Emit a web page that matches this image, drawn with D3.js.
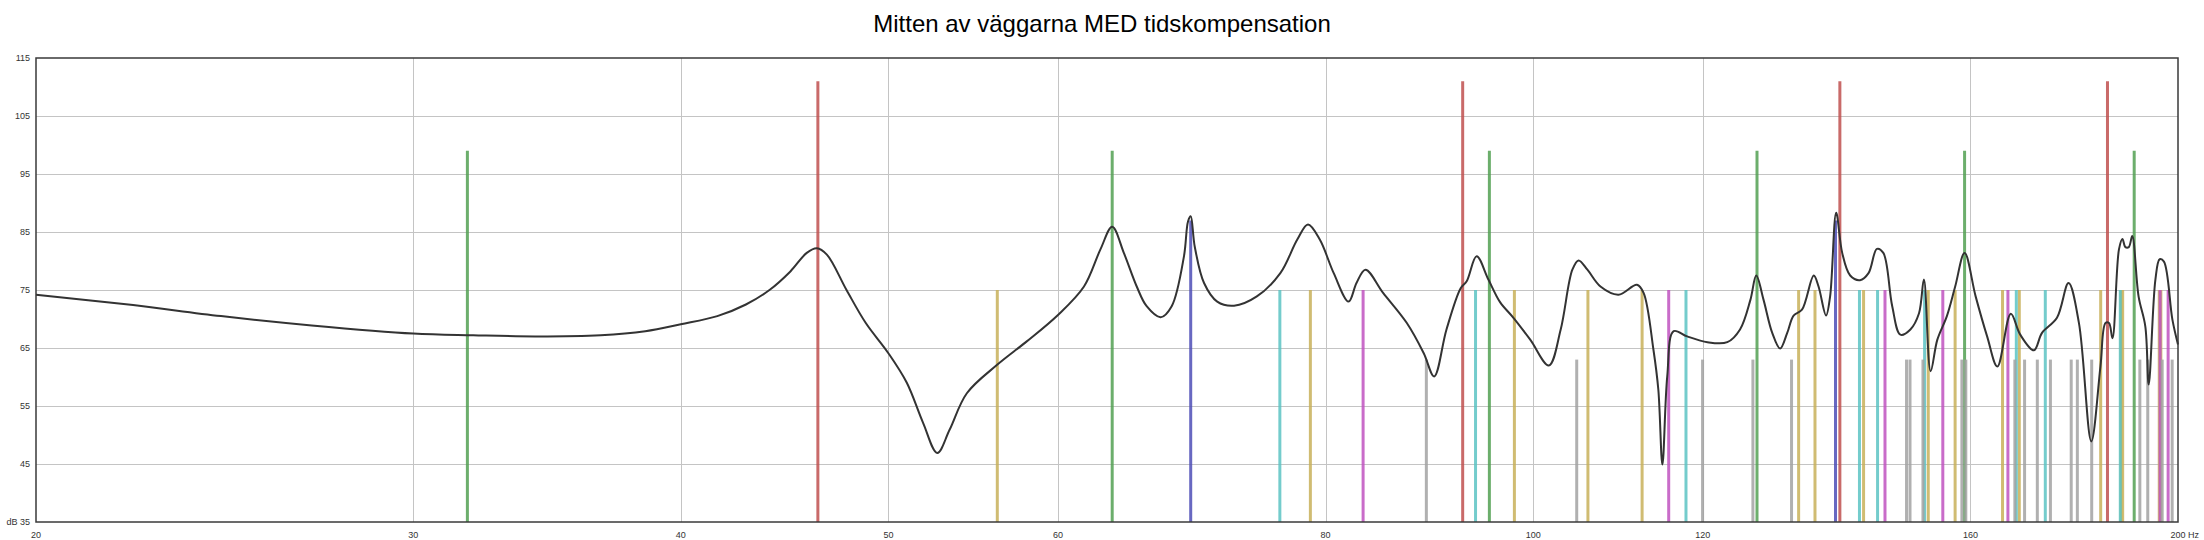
<!DOCTYPE html>
<html>
<head>
<meta charset="utf-8">
<script src="https://cdn.jsdelivr.net/npm/d3@7"></script>
<style>
  body { margin: 0; background: #fff; }
  text { font-family: Arial, 'Liberation Sans', sans-serif; }
</style>
</head>
<body>
<div id="chart"></div>
<script>
var title = 'Mitten av väggarna MED tidskompensation'
var xTicks = [20, 30, 40, 50, 60, 80, 100, 120, 160, 200]
var yTicks = [35, 45, 55, 65, 75, 85, 95, 105, 115]

// room modes (Hz)
var axialLength = [46.35, 92.7, 139.05, 185.4]
var axialWidth = [31.8, 63.6, 95.4, 127.2, 159.0, 190.8]
var axialHeight = [69.2, 138.4]
var tangLengthWidth = [56.21, 78.7, 98.0, 106.06, 112.42, 133.02, 135.38, 142.64, 152.91, 157.39, 165.62, 168.63, 184.05, 188.11, 188.45, 196.01, 196.35]
var tangLengthHeight = [83.29, 115.68, 145.96, 155.32, 166.58, 196.19, 197.89]
var tangWidthHeight = [76.16, 93.99, 117.85, 142.01, 144.8, 152.31, 168.09, 173.41, 187.97]
var oblique = [89.15, 104.79, 119.97, 126.64, 132.01, 149.38, 149.94, 152.04, 158.54, 159.21, 167.83, 169.59, 171.93, 174.37, 178.31, 179.49, 182.28, 191.96, 193.6, 196.63, 198.75]

// marker heights in dB
var axialLevels = [111, 99, 87]
var tangLevel = 75
var obliqueLevel = 63

// measured response
var curveFreqs = [20, 22.2, 24.4, 26.9, 30, 32, 34.2, 36.7, 38.5, 40, 41.6, 42.9, 44, 45, 45.8, 46.3, 46.8, 47.8, 48.8, 50,
  51, 51.9, 52.7, 53.4, 54.4, 56.2, 58, 60, 61.7, 62.8, 63.6, 64.4, 65.3, 66, 67, 67.8, 68.7, 69, 69.2, 69.5,
  70.2, 71.2, 72.5, 74.3, 76.2, 77.6, 78.5, 79.5, 80.7, 82, 82.7, 83.5, 85.1, 87.3, 88.9, 89.9, 91.1, 92.5, 93.1, 94.1,
  95.3, 96.5, 97.9, 99.7, 101.7, 103, 104.3, 105, 106, 107.5, 109.6, 111.8, 112.6, 113.8, 114.4, 114.9, 115.5, 116.3, 118, 120.6,
  123.2, 124.9, 126.3, 127.1, 128.1, 129.3, 130.4, 131.4, 132.3, 133.5, 135.2, 135.9, 137, 137.6, 138.5, 139.4, 140.6, 142.1, 143.4, 144.7,
  145.7, 147.1, 148.4, 150, 151.4, 152.2, 153.3, 154.4, 156, 157.4, 159, 160.9, 162.9, 164.7, 167.1, 168.8, 171.3, 172.8, 175.6, 177.8,
  179.8, 182.2, 184, 185, 185.7, 186.4, 187.7, 188.4, 189, 189.7, 190.4, 191.7, 193.1, 193.8, 195.2, 196.1, 197, 198.8, 200]
var curveDb = [74.2, 72.4, 70.5, 68.9, 67.5, 67.2, 67.0, 67.2, 67.9, 69.1, 70.5, 72.5, 75.0, 78.2, 81.4, 82.2, 81.1, 75.0, 69.3, 64.1,
  59.0, 52.1, 46.9, 50.9, 57.2, 62.1, 66.1, 70.7, 75.6, 82.0, 85.9, 81.4, 75.6, 72.2, 70.3, 72.2, 80.8, 86.8, 87.7, 82.5,
  76.2, 73.0, 72.3, 73.9, 77.9, 83.7, 86.3, 83.7, 77.9, 73.0, 76.2, 78.5, 74.5, 69.3, 64.1, 60.1, 68.2, 75.3, 76.5, 80.8,
  76.8, 72.9, 70.2, 66.4, 62.0, 68.2, 78.5, 80.1, 78.5, 75.6, 74.2, 75.9, 74.5, 64.7, 57.8, 44.9, 60.1, 67.9, 67.0, 66.0,
  66.0, 68.2, 73.3, 77.5, 73.3, 67.6, 64.9, 67.6, 70.6, 71.6, 77.5, 75.6, 70.6, 73.9, 88.3, 81.4, 77.5, 76.7, 77.9, 82.1,
  81.4, 72.2, 67.3, 68.2, 71.0, 76.8, 61.0, 66.4, 70.5, 75.6, 81.4, 73.9, 67.0, 61.8, 70.9, 67.3, 64.6, 67.6, 70.2, 76.2,
  69.3, 48.9, 61.8, 69.3, 69.3, 66.7, 82.0, 83.8, 82.4, 82.4, 84.3, 73.9, 68.7, 58.7, 76.8, 80.3, 79.9, 69.9, 65.6]

var width = 2204
var height = 540
var plotLeft = 36
var plotRight = 2178
var plotTop = 58
var plotBottom = 522

var x = d3.scaleLog()
  .domain([20, 200])
  .range([plotLeft, plotRight])

var y = d3.scaleLinear()
  .domain([35, 115])
  .range([plotBottom, plotTop])

var svg = d3.select('#chart')
  .append('svg')
  .attr('width', width)
  .attr('height', height)

svg.append('text')
  .attr('x', width / 2)
  .attr('y', 32)
  .attr('text-anchor', 'middle')
  .attr('font-size', 24)
  .attr('fill', '#000')
  .text(title)

// grid
svg.append('g')
  .selectAll('line')
  .data(xTicks.slice(1, -1))
  .enter()
  .append('line')
  .attr('x1', function (d) { return Math.round(x(d)) + 0.5 })
  .attr('x2', function (d) { return Math.round(x(d)) + 0.5 })
  .attr('y1', plotTop)
  .attr('y2', plotBottom)
  .attr('stroke', '#c4c4c4')
  .attr('stroke-width', 1)

svg.append('g')
  .selectAll('line')
  .data(yTicks.slice(1, -1))
  .enter()
  .append('line')
  .attr('x1', plotLeft)
  .attr('x2', plotRight)
  .attr('y1', function (d) { return Math.round(y(d)) + 0.5 })
  .attr('y2', function (d) { return Math.round(y(d)) + 0.5 })
  .attr('stroke', '#c4c4c4')
  .attr('stroke-width', 1)

// mode markers
var groups = [
  { freqs: axialLength, level: axialLevels[0], color: '#c0504f' },
  { freqs: axialWidth, level: axialLevels[1], color: '#52a052' },
  { freqs: axialHeight, level: axialLevels[2], color: '#4d4db6' },
  { freqs: tangLengthWidth, level: tangLevel, color: '#c8b059' },
  { freqs: tangLengthHeight, level: tangLevel, color: '#c052c0' },
  { freqs: tangWidthHeight, level: tangLevel, color: '#5cc3c3' },
  { freqs: oblique, level: obliqueLevel, color: '#a2a2a2' }
]

var markers = svg.append('g')
groups.forEach(function (g) {
  markers.selectAll(null)
    .data(g.freqs)
    .enter()
    .append('line')
    .attr('x1', function (d) { return x(d) })
    .attr('x2', function (d) { return x(d) })
    .attr('y1', y(35))
    .attr('y2', y(g.level))
    .attr('stroke', g.color)
    .attr('stroke-width', 3)
    .attr('stroke-opacity', 0.85)
})

// response curve
var line = d3.line()
  .x(function (d) { return x(d[0]) })
  .y(function (d) { return y(d[1]) })
  .curve(d3.curveCatmullRom.alpha(0.5))

svg.append('path')
  .datum(d3.zip(curveFreqs, curveDb))
  .attr('d', line)
  .attr('fill', 'none')
  .attr('stroke', '#333')
  .attr('stroke-width', 2)

// frame
svg.append('rect')
  .attr('x', plotLeft)
  .attr('y', plotTop)
  .attr('width', plotRight - plotLeft)
  .attr('height', plotBottom - plotTop)
  .attr('fill', 'none')
  .attr('stroke', '#3a3a3a')
  .attr('stroke-width', 1.5)

// tick labels
svg.append('g')
  .selectAll('text')
  .data(yTicks)
  .enter()
  .append('text')
  .attr('x', plotLeft - 6)
  .attr('y', function (d) { return y(d) + 3.3 })
  .attr('text-anchor', 'end')
  .attr('font-size', 9)
  .attr('fill', '#333')
  .text(function (d) { return d == 35 ? 'dB 35' : d })

svg.append('g')
  .selectAll('text')
  .data(xTicks)
  .enter()
  .append('text')
  .attr('y', plotBottom + 15.5)
  .attr('font-size', 9)
  .attr('fill', '#333')
  .text(function (d) { return d == 200 ? '200 Hz' : d })
  .each(function (d) {
    var w = this.getSubStringLength(0, String(d).length)
    d3.select(this).attr('x', x(d) - w / 2)
  })
</script>
</body>
</html>
